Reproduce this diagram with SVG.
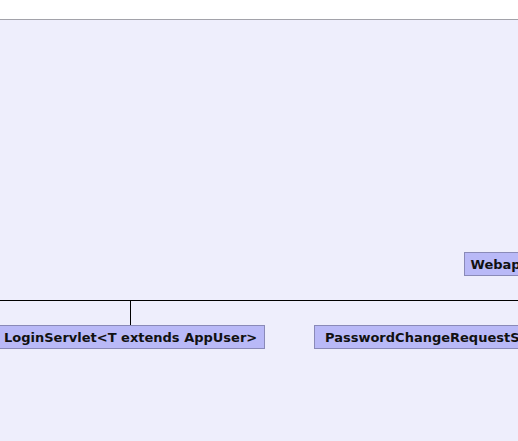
<svg xmlns="http://www.w3.org/2000/svg" width="518" height="441" viewBox="0 0 518 441">
<style>
.node rect{fill:#b9b9f7;stroke:#8a8ab8;stroke-width:1}
.node text{font-family:"DejaVu Sans","Liberation Sans",sans-serif;font-weight:bold;font-size:13px;fill:#111}
.conn line{stroke:#000;stroke-width:1}
</style>
<rect x="0" y="0" width="518" height="441" fill="#ffffff"/>
<rect x="0" y="19.5" width="518" height="421.5" fill="#eeeefc"/>
<line x1="0" y1="19.5" x2="518" y2="19.5" stroke="#a2a2aa" stroke-width="1"/>
<g id="connectors" class="conn">
<line x1="0" y1="300.5" x2="518" y2="300.5"/>
<line x1="130.5" y1="300.5" x2="130.5" y2="325.5"/>
</g>
<g id="webapp" class="node">
<rect x="464.5" y="252.5" width="100" height="23"/>
<text x="470.5" y="269">Webap</text>
</g>
<g id="loginServlet" class="node">
<rect x="-5.5" y="325.5" width="270" height="23"/>
<text x="4" y="342">LoginServlet&lt;T extends AppUser&gt;</text>
</g>
<g id="passwordChangeRequestServlet" class="node">
<rect x="314.5" y="325.5" width="260" height="23"/>
<text x="325" y="342">PasswordChangeRequestS</text>
</g>
</svg>
